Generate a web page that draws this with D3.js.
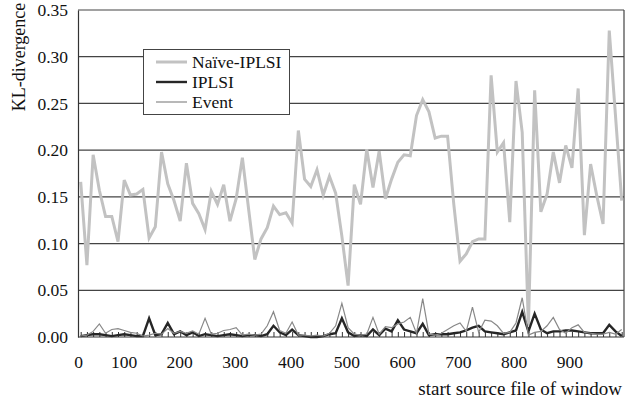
<!DOCTYPE html>
<html>
<head>
  <meta charset="utf-8">
  <title>KL-divergence</title>
  <script src="https://cdn.jsdelivr.net/npm/d3@7"></script>
  <style>
    body { margin: 0; background: #fff; }
    text { font-family: "Liberation Serif", "Times New Roman", serif; fill: #111; }
  </style>
</head>
<body>
<script>
// values per window (category index)
const naive = [0.166, 0.077, 0.195, 0.157, 0.129, 0.129, 0.102, 0.168, 0.152, 0.153,
  0.158, 0.106, 0.118, 0.198, 0.164, 0.146, 0.124, 0.186, 0.143, 0.132,
  0.115, 0.156, 0.142, 0.163, 0.124, 0.148, 0.192, 0.137, 0.083, 0.105,
  0.117, 0.140, 0.131, 0.133, 0.122, 0.221, 0.169, 0.161, 0.179, 0.152,
  0.172, 0.154, 0.108, 0.055, 0.163, 0.142, 0.201, 0.160, 0.199, 0.148,
  0.169, 0.187, 0.195, 0.194, 0.237, 0.254, 0.241, 0.213, 0.215, 0.215,
  0.142, 0.081, 0.089, 0.102, 0.105, 0.105, 0.280, 0.198, 0.208, 0.123,
  0.274, 0.219, 0.012, 0.264, 0.134, 0.153, 0.198, 0.165, 0.205, 0.181,
  0.266, 0.109, 0.185, 0.151, 0.121, 0.328, 0.237, 0.146];

const iplsi = [0.001, 0.002, 0.003, 0.003, 0.002, 0.001, 0.002, 0.003, 0.002, 0.001,
  0.001, 0.020, 0.002, 0.003, 0.015, 0.003, 0.006, 0.002, 0.005, 0.001,
  0.003, 0.002, 0.001, 0.002, 0.003, 0.002, 0.001, 0.002, 0.002, 0.001,
  0.003, 0.012, 0.005, 0.002, 0.008, 0.002, 0.001, 0.000, 0.000, 0.001,
  0.003, 0.004, 0.020, 0.005, 0.001, 0.002, 0.001, 0.008, 0.002, 0.009,
  0.006, 0.018, 0.008, 0.006, 0.004, 0.014, 0.002, 0.003, 0.003, 0.003,
  0.004, 0.005, 0.007, 0.010, 0.012, 0.006, 0.005, 0.004, 0.003, 0.005,
  0.007, 0.027, 0.006, 0.025, 0.008, 0.004, 0.006, 0.006, 0.007, 0.007,
  0.006, 0.005, 0.004, 0.004, 0.004, 0.013, 0.006, 0.001];

const event = [0.001, 0.002, 0.006, 0.014, 0.004, 0.008, 0.009, 0.007, 0.005, 0.004,
  0.001, 0.002, 0.004, 0.003, 0.009, 0.004, 0.006, 0.004, 0.0065, 0.003,
  0.020, 0.003, 0.004, 0.007, 0.008, 0.010, 0.002, 0.003, 0.002, 0.003,
  0.012, 0.027, 0.007, 0.004, 0.016, 0.002, 0.002, 0.001, 0.002, 0.001,
  0.004, 0.012, 0.036, 0.010, 0.003, 0.002, 0.003, 0.021, 0.003, 0.011,
  0.010, 0.014, 0.016, 0.021, 0.004, 0.041, 0.003, 0.002, 0.004, 0.008,
  0.012, 0.015, 0.006, 0.032, 0.005, 0.018, 0.017, 0.012, 0.004, 0.005,
  0.015, 0.042, 0.002, 0.005, 0.006, 0.012, 0.021, 0.008, 0.004, 0.010,
  0.013, 0.005, 0.004, 0.003, 0.003, 0.005, 0.003, 0.008];

const xTicks = [0, 100, 200, 300, 400, 500, 600, 700, 800, 900];
const yTicks = [0, 0.05, 0.10, 0.15, 0.20, 0.25, 0.30, 0.35];

const seriesNames = ["Naïve-IPLSI", "IPLSI", "Event"];
const seriesColors = ["#c2c2c2", "#262626", "#888888"];
const seriesWidths = [3, 2.4, 1.2];
const seriesData = [naive, iplsi, event];

// plot box
const plotLeft = 78, plotRight = 624, plotTop = 10, plotBottom = 337;

const svg = d3.select("body").append("svg")
  .attr("width", 626)
  .attr("height", 400);

// y scale
const yScale = d3.scaleLinear().domain([0, 0.35]).range([plotBottom, plotTop]);

// windows are categories, drawn at evenly spaced points
const xIndex = d3.scalePoint()
  .domain(d3.range(naive.length))
  .range([80.7, 621.7]);

// labels of the start source file (the first label sits at the left edge)
const xLabel = d3.scaleLinear().domain([0, 100, 1000]).range([78, 123.5, 625]);

// grid lines
svg.append("g")
  .selectAll("line")
  .data(yTicks.slice(1))
  .enter()
  .append("line")
  .attr("x1", plotLeft)
  .attr("x2", plotRight)
  .attr("y1", d => yScale(d))
  .attr("y2", d => yScale(d))
  .attr("stroke", "#444")
  .attr("stroke-width", 1.2);

// right border
svg.append("line")
  .attr("x1", plotRight).attr("x2", plotRight)
  .attr("y1", plotTop).attr("y2", plotBottom)
  .attr("stroke", "#444").attr("stroke-width", 1.2);

// small ticks along the bottom, one per window
const tickAxis = d3.axisBottom(xIndex).tickSize(-5).tickFormat("");
const tg = svg.append("g")
  .attr("transform", "translate(0," + plotBottom + ")")
  .call(tickAxis);
tg.select(".domain").remove();
tg.selectAll("line").attr("stroke", "#333");

// lines
const line = d3.line()
  .x((d, i) => xIndex(i))
  .y(d => yScale(d));

seriesData.forEach(function (s, k) {
  svg.append("path")
    .datum(s)
    .attr("fill", "none")
    .attr("stroke", seriesColors[k])
    .attr("stroke-width", seriesWidths[k])
    .attr("stroke-linejoin", "miter")
    .attr("d", line);
});

// y axis
const yAxis = d3.axisLeft(yScale)
  .tickValues(yTicks)
  .tickSize(0)
  .tickPadding(10)
  .tickFormat(d3.format(".2f"));
const yg = svg.append("g")
  .attr("transform", "translate(" + plotLeft + ",0)")
  .call(yAxis);
yg.select(".domain").attr("stroke", "#333").attr("stroke-width", 1.2);
yg.selectAll("text").style("font-size", "17.5px").attr("fill", "#111");

// x axis
const xAxis = d3.axisBottom(xLabel)
  .tickValues(xTicks)
  .tickSize(0)
  .tickPadding(19);
const xg = svg.append("g")
  .attr("transform", "translate(0," + plotBottom + ")")
  .call(xAxis);
xg.select(".domain").attr("d", "M" + plotLeft + ",0H" + plotRight).attr("stroke", "#333").attr("stroke-width", 1.2);
xg.selectAll("text").style("font-size", "17.5px").attr("fill", "#111");

// axis titles
svg.append("text")
  .attr("transform", "translate(25,57) rotate(-90)")
  .attr("text-anchor", "middle")
  .style("font-size", "18px")
  .text("KL-divergence");

svg.append("text")
  .attr("x", 622)
  .attr("y", 395)
  .attr("text-anchor", "end")
  .style("font-size", "19px")
  .text("start source file of window");

// legend
const legend = svg.append("g");
legend.append("rect")
  .attr("x", 143.5).attr("y", 49.5)
  .attr("width", 146).attr("height", 65)
  .attr("fill", "#fff")
  .attr("stroke", "#444");

seriesNames.forEach(function (name, k) {
  const y = 62 + k * 20;
  legend.append("line")
    .attr("x1", 156).attr("x2", 187)
    .attr("y1", y).attr("y2", y)
    .attr("stroke", seriesColors[k])
    .attr("stroke-width", seriesWidths[k]);
  legend.append("text")
    .attr("x", 192)
    .attr("y", y)
    .attr("dy", "0.35em")
    .style("font-size", "17.5px")
    .text(name);
});
</script>
</body>
</html>
